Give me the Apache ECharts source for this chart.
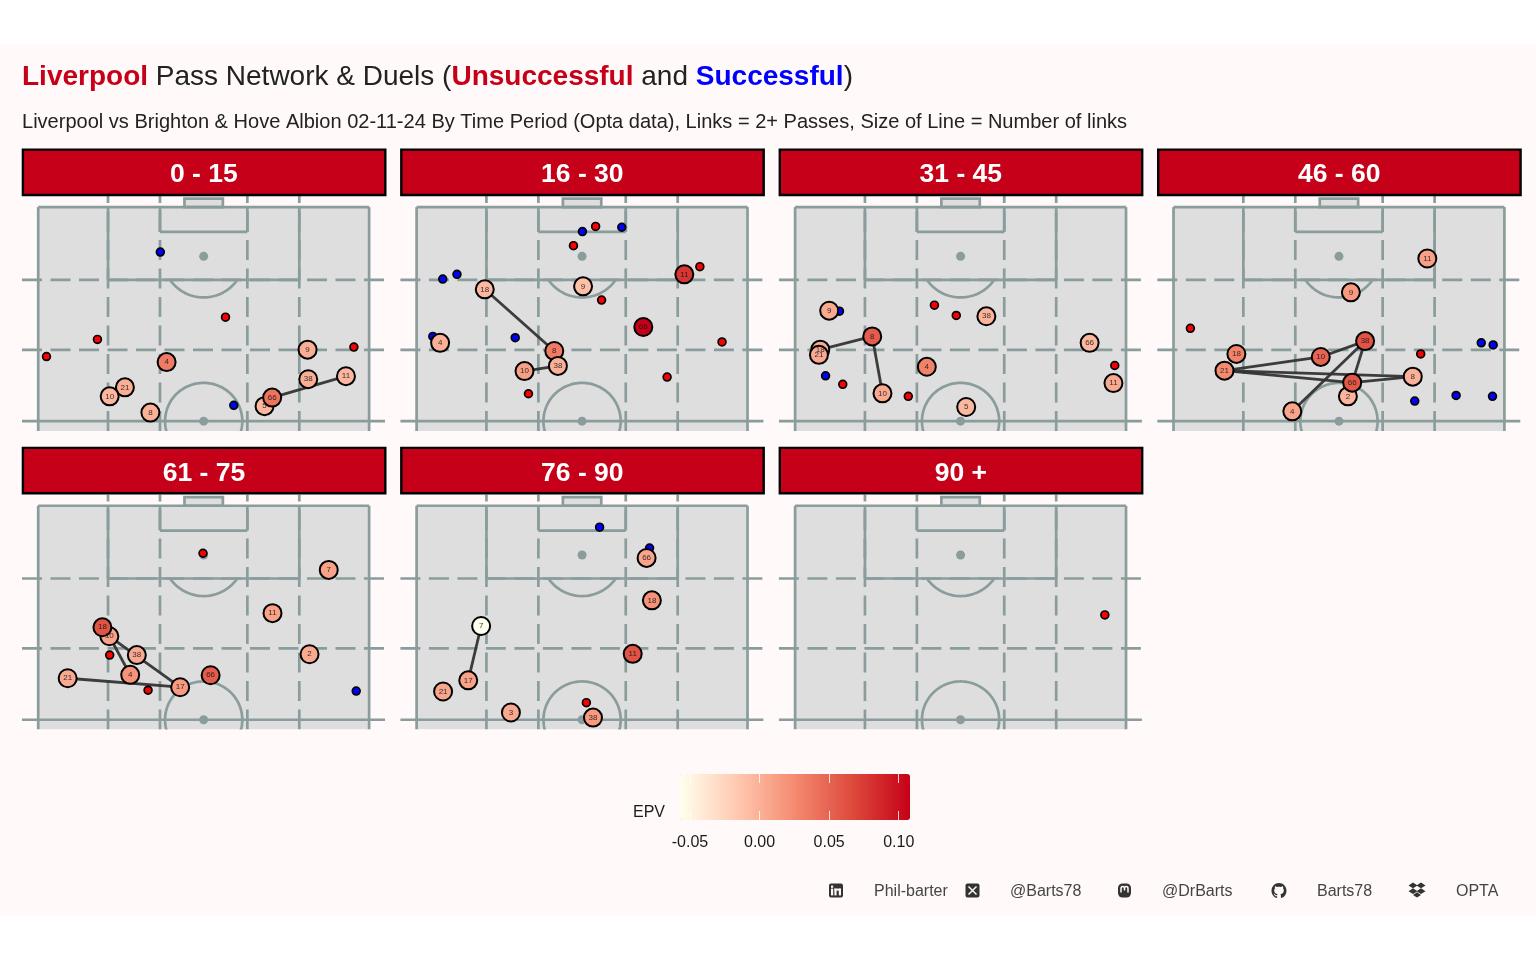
<!DOCTYPE html>
<html><head><meta charset="utf-8">
<style>html,body{margin:0;padding:0;background:#fff}#c{width:1536px;height:960px}</style>
<script src="https://cdn.jsdelivr.net/npm/echarts@6/dist/echarts.min.js"></script>
</head><body><div id="c"></div>
<script>
// Data: [pitch x, pitch y, EPV, shirt]
const periods = ['0 - 15','16 - 30','31 - 45','46 - 60','61 - 75','76 - 90','90 +'];
const players0 = [[38.8,63.8,0.035,4],[81.4,66.7,0.002,9],[81.6,59.8,0.002,38],[93,60.5,-0.004,11],[68.4,53.5,-0.004,5],[70.7,55.5,0.04,66],[26.2,57.9,0.002,21],[21.6,55.8,-0.004,10],[33.9,52,0,8]];
const players1 = [[20.6,80.8,-0.005,18],[50.3,81.5,-0.01,9],[80.9,84.3,0.078,11],[68.5,72,0.108,66],[7.1,68.3,0,4],[41.6,66.4,0.035,8],[42.7,62.9,0,38],[32.6,61.7,0.012,10]];
const players2 = [[10.3,75.8,0.005,9],[23.3,69.8,0.055,8],[7.6,66.7,0.005,18],[7.2,65.5,0.005,21],[39.8,62.7,0.03,4],[57.8,74.5,-0.002,38],[89,68.3,-0.005,66],[96.2,58.9,0.005,11],[26.4,56.5,0.005,10],[51.7,53.3,-0.005,5]];
const players3 = [[76.7,88,0.012,11],[53.6,80.1,0.015,9],[57.9,68.7,0.06,38],[19,65.7,0.03,18],[44.5,65,0.05,10],[15.4,61.8,0.025,21],[52.7,55.8,-0.003,2],[54,59,0.058,66],[72.3,60.4,0,8],[35.9,52.3,0.008,4]];
const players4 = [[87.8,85,0.01,7],[70.8,74.9,0.01,11],[82,65.3,0.005,2],[21.5,69.5,0.01,10],[19.4,71.6,0.06,18],[29.8,65.1,0.005,38],[27.8,60.5,0.02,4],[8.9,59.7,0.005,21],[42.9,57.6,0.015,17],[52.1,60.4,0.055,66]];
const players5 = [[19.5,71.9,-0.057,7],[15.6,59.2,0.01,17],[8,56.6,0.008,21],[28.5,51.7,0.005,3],[53.3,50.5,0.015,38],[69.5,87.8,0.008,66],[71.1,77.9,0.02,18],[65.3,65.4,0.06,11]];
const players6 = [];
const links0 = [[66,11]];
const links1 = [[18,8],[10,38]];
const links2 = [[18,8],[8,10]];
const links3 = [[21,10],[10,38],[38,4],[38,66],[21,66],[21,8],[66,8]];
const links4 = [[10,17],[10,4],[21,17]];
const links5 = [[7,17]];
const links6 = [];
const won0 = [[36.9,89.5],[59.1,53.7]];
const lost0 = [[56.6,74.3],[17.9,69.1],[2.5,65.1],[95.4,67.3]];
const won1 = [[50.1,94.3],[62,95.3],[7.9,83.2],[12.2,84.3],[29.8,69.5],[4.9,69.8]];
const lost1 = [[54.1,95.5],[47.4,91],[85.6,86.1],[55.9,78.3],[92.3,68.5],[75.7,60.3],[33.8,56.4]];
const won2 = [[13.4,75.7],[9.2,60.6]];
const lost2 = [[42.1,77.1],[48.7,74.7],[96.6,63],[14.4,58.6],[34.2,55.8]];
const won3 = [[93,68.3],[96.6,67.8],[85.4,56],[96.4,55.8],[72.9,54.7]];
const lost3 = [[5.1,71.7],[74.7,65.7]];
const won4 = [[96.1,56.7]];
const lost4 = [[49.8,88.9],[21.6,65.1],[33.2,56.9]];
const won5 = [[55.3,95],[70.4,90.1]];
const lost5 = [[51.3,54]];
const won6 = [];
const lost6 = [[93.6,74.5]];
const epvTicks = [-0.05,0,0.05,0.10];
const epvColors = ['#FFFFEE','#FFC9B0','#F48A70','#DD4A3C','#C60018'];

const allPlayers=[players0,players1,players2,players3,players4,players5,players6];
const allLinks=[links0,links1,links2,links3,links4,links5,links6];
const allWon=[won0,won1,won2,won3,won4,won5,won6];
const allLost=[lost0,lost1,lost2,lost3,lost4,lost5,lost6];

const RED='#C60018', LINE='#8A9C9C', FONT='"Liberation Sans",Arial,sans-serif', LW=2.7;
const XMIN=-4.9,XMAX=104.8,YMIN=47.7,YMAX=102.6;
const colX=[22,400.4,778.9,1157.3], rowY=[196,494.6], GW=363, GH=235;

function arc(cx,cy,rx,ry,keep,api){
  const pts=[];
  for(let a=0;a<=360;a+=3){
    const x=cx+rx*Math.cos(a*Math.PI/180), y=cy+ry*Math.sin(a*Math.PI/180);
    if(keep(y)) pts.push(api.coord([x,y]));
  }
  return pts;
}
function renderPitch(params,api){
  const seg=(a,b,dash)=>{const p=api.coord(a),q=api.coord(b);
    return {type:'line',shape:{x1:p[0],y1:p[1],x2:q[0],y2:q[1]},style:{stroke:LINE,lineWidth:LW,lineDash:dash?[20,8.5]:null}};};
  const box=(x0,y0,x1,y1,stroke)=>{const p=api.coord([x0,y1]),q=api.coord([x1,y0]);
    return {type:'rect',shape:{x:p[0],y:p[1],width:q[0]-p[0],height:q[1]-p[1]},style:{fill:'#DEDEDE',stroke:stroke?LINE:null,lineWidth:LW}};};
  const dot=(x,y)=>{const p=api.coord([x,y]);return {type:'circle',shape:{cx:p[0],cy:p[1],r:4.5},style:{fill:LINE}};};
  const ch=[];
  ch.push(box(0,YMIN,100,100,false));
  ch.push(box(44.2,100,55.8,102,true));
  ch.push(seg([0,YMIN],[0,100]),seg([100,YMIN],[100,100]),seg([0,100],[100,100]));
  [21.1,36.8,63.2,78.9].forEach(x=>ch.push(seg([x,YMIN],[x,YMAX],true)));
  [83,66.67].forEach(y=>ch.push(seg([XMIN,y],[XMAX,y],true)));
  ch.push(seg([XMIN,50],[XMAX,50]));
  ch.push(seg([21.1,83],[78.9,83]),seg([21.1,83],[21.1,100]),seg([78.9,83],[78.9,100]));
  ch.push(seg([36.8,94.2],[63.2,94.2]),seg([36.8,94.2],[36.8,100]),seg([63.2,94.2],[63.2,100]));
  const circ=arc(50,50,11.67,8.95,()=>true,api);
  ch.push({type:'polyline',shape:{points:circ},style:{fill:null,stroke:LINE,lineWidth:LW}});
  const d=arc(50,88.5,12.4,9.6,y=>y<83,api).sort((a,b)=>a[0]-b[0]);
  ch.push({type:'polyline',shape:{points:d},style:{fill:null,stroke:LINE,lineWidth:LW}});
  ch.push(dot(50,88.5),dot(50,50));
  return {type:'group',children:ch};
}

const grid=[],xAxis=[],yAxis=[],series=[],playerIdx=[],graphic=[];
graphic.push({type:'rect',z:-10,silent:true,shape:{x:0,y:44,width:1536,height:872},style:{fill:'#FFF9F9'}});
periods.forEach((name,i)=>{
  const col=i%4,row=i<4?0:1;
  grid.push({left:colX[col],top:rowY[row],width:GW,height:GH});
  xAxis.push({type:'value',gridIndex:i,min:XMIN,max:XMAX,show:false});
  yAxis.push({type:'value',gridIndex:i,min:YMIN,max:YMAX,show:false});
  series.push({type:'custom',xAxisIndex:i,yAxisIndex:i,clip:true,silent:true,renderItem:renderPitch,data:[[50,75]]});
  const lookup={}; allPlayers[i].forEach(p=>lookup[p[3]]=p);
  series.push({type:'lines',coordinateSystem:'cartesian2d',xAxisIndex:i,yAxisIndex:i,silent:true,
    lineStyle:{color:'#333',opacity:0.95,width:2.8,curveness:0},
    data:allLinks[i].map(l=>({coords:[lookup[l[0]].slice(0,2),lookup[l[1]].slice(0,2)]}))});
  series.push({type:'scatter',xAxisIndex:i,yAxisIndex:i,silent:true,symbolSize:7.8,data:allWon[i],
    itemStyle:{color:'#0000FF',opacity:1,borderColor:'#000',borderWidth:1.7}});
  series.push({type:'scatter',xAxisIndex:i,yAxisIndex:i,silent:true,symbolSize:7.8,data:allLost[i],
    itemStyle:{color:'#FF0000',opacity:1,borderColor:'#000',borderWidth:1.7}});
  playerIdx.push(series.length);
  series.push({type:'scatter',xAxisIndex:i,yAxisIndex:i,silent:true,symbolSize:18,data:allPlayers[i],
    encode:{x:0,y:1},
    itemStyle:{opacity:1,borderColor:'#000',borderWidth:2},
    label:{show:true,position:'inside',formatter:p=>String(p.value[3]),fontSize:8,fontFamily:FONT,color:'rgba(20,20,20,.85)'}});
  const sx=colX[col]+0.9, sy=149.6+(row?298.3:0);
  graphic.push({type:'rect',z:5,silent:true,shape:{x:sx,y:sy,width:362.4,height:45.4},style:{fill:RED,stroke:'#000',lineWidth:2.4}});
  graphic.push({type:'text',z:6,silent:true,x:sx+181,y:sy+25.5,style:{text:name,fill:'#fff',font:'bold 26.5px '+FONT,textAlign:'center',textVerticalAlign:'middle'}});
});
// EPV legend axis
const LG=periods.length;
const EPVMIN=-0.0572,EPVMAX=0.1081;
grid.push({left:680,top:774,width:230,height:46});
xAxis.push({type:'value',gridIndex:LG,min:EPVMIN,max:EPVMAX,position:'bottom',z:20,splitLine:{show:false},axisLine:{show:false},
  axisTick:{show:true,inside:true,length:9,lineStyle:{color:'#fff',width:1,opacity:.8},customValues:epvTicks},
  axisLabel:{show:true,margin:15,fontSize:16,fontFamily:FONT,color:'#1a1a1a',customValues:epvTicks,formatter:v=>v.toFixed(2)}});
xAxis.push({type:'value',gridIndex:LG,min:EPVMIN,max:EPVMAX,position:'top',z:20,splitLine:{show:false},axisLine:{show:false},
  axisTick:{show:true,inside:true,length:9,lineStyle:{color:'#fff',width:1,opacity:.8},customValues:epvTicks},axisLabel:{show:false}});
yAxis.push({type:'value',gridIndex:LG,min:0,max:1,show:false});

// footer
const INK='#333';
const footer=[['Phil-barter',874],['@Barts78',1010],['@DrBarts',1162],['Barts78',1317],['OPTA',1456]];
footer.forEach(f=>graphic.push({type:'text',silent:true,x:f[1],y:892,style:{text:f[0],fill:'#444',font:'16px '+FONT,textVerticalAlign:'middle'}}));
graphic.push({type:'text',silent:true,x:633,y:813,style:{text:'EPV',fill:'#1a1a1a',font:'16px '+FONT,textVerticalAlign:'middle'}});
const wr=(x,y,w,h)=>({type:'rect',silent:true,shape:{x,y,width:w,height:h},style:{fill:'#FFF9F9'}});
const dk=(x,y,w,h,r)=>({type:'rect',silent:true,shape:{x,y,width:w,height:h,r},style:{fill:INK}});
graphic.push(dk(829,883.5,14,14,2),wr(831,885.6,2.2,2.2),wr(831,888.6,2.2,6.8),wr(834.4,888.6,2.2,6.8),wr(834.4,888.6,6.5,2),wr(838.8,888.6,2.2,6.8));
graphic.push(dk(965.5,883.5,14,14,2));
graphic.push(dk(1118,883.5,13,14,4.5));
series.push({type:'custom',coordinateSystem:'none',silent:true,clip:false,data:[[0]],z:8,renderItem:()=>({type:'group',children:[
  {type:'path',shape:{pathData:'M968.5 886.5L976.5 894.5M976.5 886.5L968.5 894.5'},style:{stroke:'#FFF9F9',lineWidth:1.5,fill:null}},
  {type:'path',shape:{pathData:'M1121 892.5V888.5Q1121 886.5 1122.8 886.5Q1124.5 886.5 1124.5 888.5V890.5M1124.5 890.5V888.5Q1124.5 886.5 1126.2 886.5Q1128 886.5 1128 888.5V892.5'},style:{stroke:'#FFF9F9',lineWidth:1.5,fill:null}},
  {type:'path',shape:{pathData:'M8 0C3.58 0 0 3.58 0 8c0 3.54 2.29 6.53 5.47 7.59.4.07.55-.17.55-.38 0-.19-.01-.82-.01-1.49-2.01.37-2.53-.49-2.69-.94-.09-.23-.48-.94-.82-1.13-.28-.15-.68-.52-.01-.53.63-.01 1.08.58 1.23.82.72 1.21 1.87.87 2.33.66.07-.52.28-.87.51-1.07-1.78-.2-3.64-.89-3.64-3.95 0-.87.31-1.59.82-2.15-.08-.2-.36-1.02.08-2.12 0 0 .67-.21 2.2.82.64-.18 1.32-.27 2-.27.68 0 1.36.09 2 .27 1.53-1.04 2.2-.82 2.2-.82.44 1.1.16 1.92.08 2.12.51.56.82 1.27.82 2.15 0 3.07-1.87 3.75-3.65 3.95.29.25.54.73.54 1.48 0 1.07-.01 1.93-.01 2.2 0 .21.15.46.55.38A8.013 8.013 0 0 0 16 8c0-4.42-3.58-8-8-8z',x:1271.5,y:883,width:15,height:15,layout:'cover'},style:{fill:INK}},
  {type:'path',shape:{pathData:'M1413 882.5L1417.5 885.4L1413 888.3L1408.5 885.4ZM1421 882.5L1425.5 885.4L1421 888.3L1416.5 885.4ZM1413 888.3L1417.5 891.2L1413 894.1L1408.5 891.2ZM1421 888.3L1425.5 891.2L1421 894.1L1416.5 891.2ZM1417 892.3L1421 894.9L1417 897.5L1413 894.9Z'},style:{fill:INK}}
]})});

const option={
  animation:false,
  backgroundColor:'#fff',
  title:[
    {left:22,top:63,padding:0,text:'{r|Liverpool}{k| Pass Network & Duels (}{r|Unsuccessful}{k| and }{b|Successful}{k|)}',
     textStyle:{fontFamily:FONT,rich:{r:{fontSize:28,fontWeight:'bold',color:RED,fontFamily:FONT},k:{fontSize:28,fontWeight:'normal',color:'#222',fontFamily:FONT},b:{fontSize:28,fontWeight:'bold',color:'#0000FF',fontFamily:FONT}}}},
    {left:22,top:112,padding:0,text:'Liverpool vs Brighton & Hove Albion 02-11-24 By Time Period (Opta data), Links = 2+ Passes, Size of Line = Number of links',
     textStyle:{fontFamily:FONT,fontSize:20.04,fontWeight:'normal',color:'#222'}}
  ],
  grid,xAxis,yAxis,series,graphic,
  visualMap:{type:'continuous',show:true,orient:'horizontal',calculable:false,hoverLink:false,padding:0,left:680,top:774,itemWidth:46,itemHeight:230,
    min:EPVMIN,max:EPVMAX,dimension:2,seriesIndex:playerIdx,inRange:{color:epvColors},text:null,z:4}
};
const chart=echarts.init(document.getElementById('c'),null,{width:1536,height:960});
chart.setOption(option);
</script></body></html>
